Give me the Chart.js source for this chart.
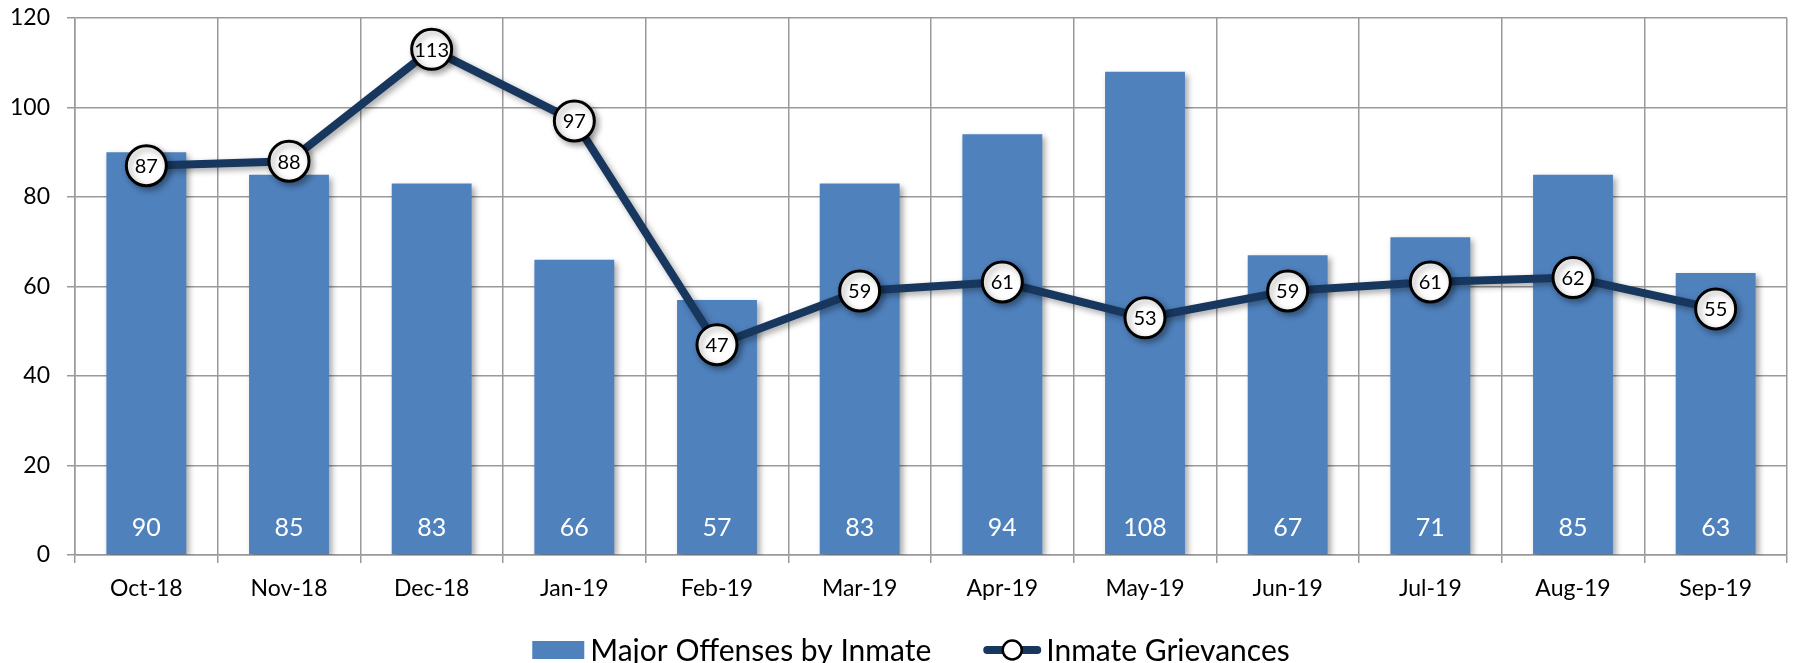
<!DOCTYPE html>
<html>
<head>
<meta charset="utf-8">
<script src="https://cdn.jsdelivr.net/npm/chart.js@4/dist/chart.umd.min.js"></script>
<style>
  html, body { margin: 0; padding: 0; background: #fff; }
  #wrap { width: 1794px; height: 663px; }
</style>
</head>
<body>
<div id="wrap"><canvas id="c" width="1794" height="663"></canvas></div>
<script>
const categories = ['Oct-18','Nov-18','Dec-18','Jan-19','Feb-19','Mar-19','Apr-19','May-19','Jun-19','Jul-19','Aug-19','Sep-19'];
const majorOffenses = [90, 85, 83, 66, 57, 83, 94, 108, 67, 71, 85, 63];
const inmateGrievances = [87, 88, 113, 97, 47, 59, 61, 53, 59, 61, 62, 55];
const yTicks = [0, 20, 40, 60, 80, 100, 120];
const seriesNames = ['Major Offenses by Inmate', 'Inmate Grievances'];

const FONT = 'Lato, "Open Sans", sans-serif';
const BAR_COLOR = '#4F81BD';
const LINE_COLOR = '#17375E';
const GRID = '#9a9a9a';
const LEGEND_SIZE = 30;

const shadowPlugin = {
  id: 'shadows',
  beforeDatasetDraw(chart) {
    const ctx = chart.ctx;
    ctx.save();
    ctx.shadowColor = 'rgba(0,0,0,0.35)';
    ctx.shadowBlur = 6;
    ctx.shadowOffsetX = 3;
    ctx.shadowOffsetY = 3;
  },
  afterDatasetDraw(chart) { chart.ctx.restore(); }
};

const labelPlugin = {
  id: 'valueLabels',
  afterDatasetsDraw(chart) {
    const ctx = chart.ctx;
    const y0 = chart.scales.y.getPixelForValue(0);
    ctx.save();
    ctx.textAlign = 'center';
    ctx.textBaseline = 'middle';
    const barMeta = chart.getDatasetMeta(0);
    ctx.fillStyle = '#ffffff';
    ctx.font = '25px ' + FONT;
    barMeta.data.forEach((el, i) => {
      ctx.fillText(String(majorOffenses[i]), el.x, y0 - 27);
    });
    const lineMeta = chart.getDatasetMeta(1);
    ctx.fillStyle = '#000000';
    ctx.font = '20px ' + FONT;
    lineMeta.data.forEach((el, i) => {
      ctx.fillText(String(inmateGrievances[i]), el.x, el.y + 1);
    });
    ctx.restore();
  }
};

// Legend drawn below the x axis, centred on the plot
const legendPlugin = {
  id: 'customLegend',
  afterDraw(chart) {
    const ctx = chart.ctx;
    const area = chart.chartArea;
    const cy = chart.height - 13;
    ctx.save();
    ctx.font = LEGEND_SIZE + 'px ' + FONT;
    ctx.textBaseline = 'middle';
    ctx.textAlign = 'left';
    const w1 = ctx.measureText(seriesNames[0]).width;
    const w2 = ctx.measureText(seriesNames[1]).width;
    const total = 52 + 6 + w1 + 52 + 58 + 5 + w2;
    const cx = (area.left + area.right) / 2 - 20;
    let x = cx - total / 2;
    ctx.fillStyle = BAR_COLOR;
    ctx.fillRect(x, cy - 9, 52, 18);
    x += 52 + 6;
    ctx.fillStyle = '#000';
    ctx.fillText(seriesNames[0], x, cy + 1);
    x += w1 + 52;
    ctx.strokeStyle = LINE_COLOR;
    ctx.lineWidth = 8;
    ctx.lineCap = 'round';
    ctx.beginPath(); ctx.moveTo(x + 4, cy); ctx.lineTo(x + 54, cy); ctx.stroke();
    ctx.beginPath(); ctx.arc(x + 29, cy, 9.5, 0, Math.PI * 2);
    ctx.fillStyle = '#fff'; ctx.fill();
    ctx.lineWidth = 2.5; ctx.strokeStyle = '#000'; ctx.stroke();
    x += 58 + 5;
    ctx.fillStyle = '#000';
    ctx.fillText(seriesNames[1], x, cy + 1);
    ctx.restore();
  }
};

new Chart(document.getElementById('c'), {
  type: 'bar',
  data: {
    labels: categories,
    datasets: [
      {
        type: 'bar',
        label: seriesNames[0],
        data: majorOffenses,
        backgroundColor: BAR_COLOR,
        borderWidth: 0,
        categoryPercentage: 1.0,
        barPercentage: 0.56,
        order: 2
      },
      {
        type: 'line',
        label: seriesNames[1],
        data: inmateGrievances,
        borderColor: LINE_COLOR,
        borderWidth: 8,
        tension: 0,
        pointRadius: 20,
        pointHoverRadius: 20,
        pointBorderWidth: 3,
        pointBorderColor: '#000000',
        pointBackgroundColor: '#ffffff',
        clip: false,
        order: 1
      }
    ]
  },
  options: {
    responsive: false,
    animation: false,
    devicePixelRatio: 1,
    layout: { autoPadding: false, padding: { top: 18, right: 7, left: 0, bottom: 0 } },
    scales: {
      x: {
        grid: { color: GRID, lineWidth: 1.5, offset: true, drawTicks: true, tickLength: 8 },
        border: { color: GRID, width: 1.5 },
        ticks: { color: '#000', font: { family: FONT, size: 23 }, padding: 12, maxRotation: 0 },
        afterFit(s) { s.height = 108; }
      },
      y: {
        min: 0, max: 120,
        afterBuildTicks(s) { s.ticks = yTicks.map(v => ({ value: v })); },
        grid: { color: GRID, lineWidth: 1.5, drawTicks: true, tickLength: 8 },
        border: { color: GRID, width: 1.5 },
        ticks: { color: '#000', font: { family: FONT, size: 23 }, padding: 17 },
        afterFit(s) { s.width = 75; s.paddingTop = 0; s.paddingBottom = 0; }
      }
    },
    plugins: {
      tooltip: { enabled: false },
      legend: { display: false }
    }
  },
  plugins: [shadowPlugin, labelPlugin, legendPlugin]
});
</script>
</body>
</html>
